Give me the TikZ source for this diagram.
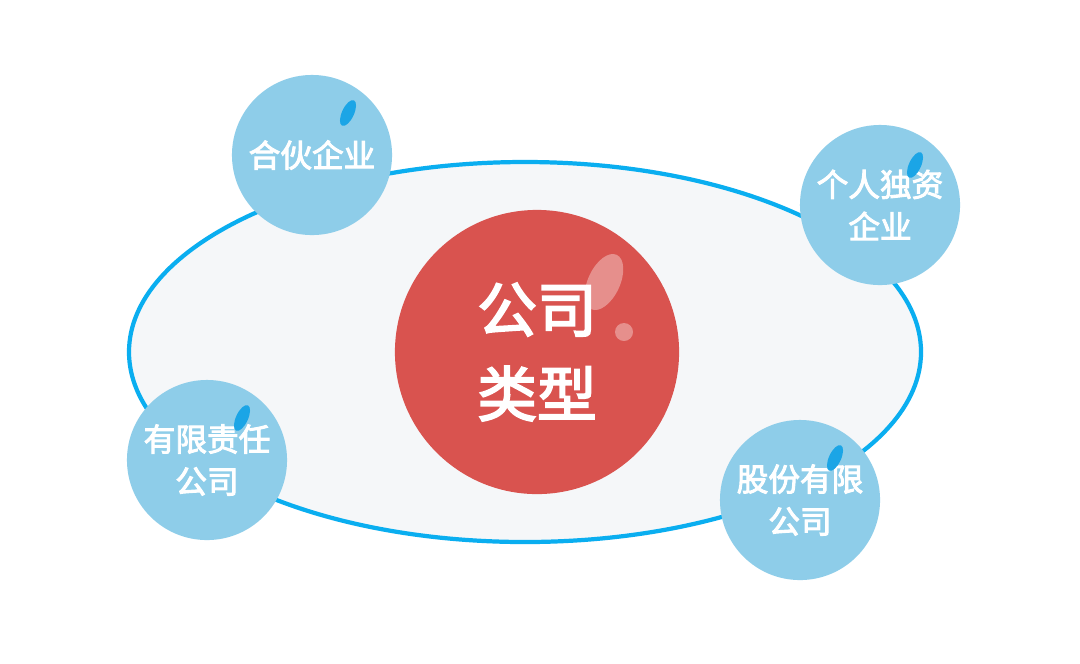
\documentclass[tikz,border=0pt]{standalone}
\usepackage{fontspec}
\newfontfamily\cjk[AutoFakeBold=3]{Noto Sans CJK SC}
\definecolor{ringblue}{HTML}{0AAEF0}
\definecolor{platefill}{HTML}{F5F7F9}
\definecolor{corered}{HTML}{D9534F}
\definecolor{bubble}{HTML}{8ECDE9}
\definecolor{glint}{HTML}{1BA5E6}
\begin{document}
\begin{tikzpicture}[x=0.01cm, y=-0.01cm,
  bubble node/.style={circle, fill=bubble, minimum size=1.6cm, inner sep=0pt,
    align=center, text=white, font=\cjk\bfseries\fontsize{9}{12}\selectfont},
  core node/.style={circle, fill=corered, minimum size=2.84cm, inner sep=0pt,
    align=center, text=white, font=\cjk\bfseries\fontsize{17}{24}\selectfont}]
\useasboundingbox[fill=white] (0,0) rectangle (1080,663);

% plate
\draw[ringblue, line width=1.2pt, fill=platefill] (525,352) ellipse [x radius=396, y radius=190];

% centre
\node[core node] (core) at (537,352) {公司\\类型};
\fill[white, opacity=0.35, rotate around={-25:(604,282)}] (604,282) ellipse [x radius=16, y radius=30];
\fill[white, opacity=0.35] (624,332) circle (9);

% bubbles
\node[bubble node] (partner) at (312,155) {合伙企业};
\node[bubble node] (sole) at (880,205) {个人独资\\企业};
\node[bubble node] (llc) at (207,460) {有限责任\\公司};
\node[bubble node] (stock) at (800,500) {股份有限\\公司};

\foreach \gx/\gy in {348/113, 915/165, 242/418, 835/458}
  \fill[glint, rotate around={-25:(\gx,\gy)}] (\gx,\gy) ellipse [x radius=6, y radius=14];
\end{tikzpicture}
\end{document}
